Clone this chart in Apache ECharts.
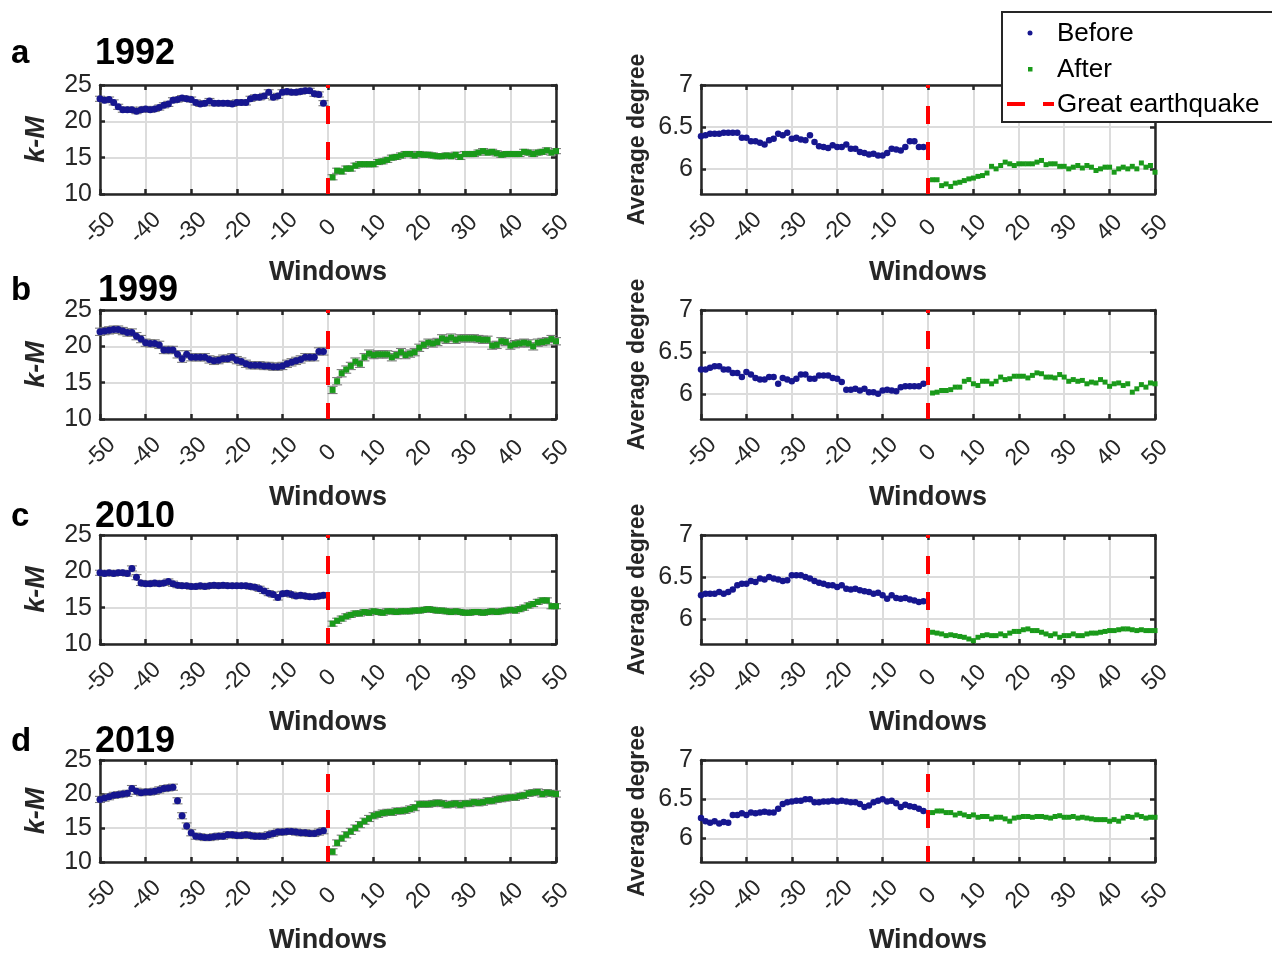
<!DOCTYPE html>
<html><head><meta charset="utf-8">
<script src="https://cdn.jsdelivr.net/npm/echarts@6/dist/echarts.min.js"></script>
<style>html,body{margin:0;padding:0;background:#fff}#chart{width:1272px;height:955px}</style>
</head><body><div id="chart"></div><script>
// ---------- data ----------
const windowsBefore = [-50,-49,-48,-47,-46,-45,-44,-43,-42,-41,-40,-39,-38,-37,-36,-35,-34,-33,-32,-31,-30,-29,-28,-27,-26,-25,-24,-23,-22,-21,-20,-19,-18,-17,-16,-15,-14,-13,-12,-11,-10,-9,-8,-7,-6,-5,-4,-3,-2,-1];
const windowsAfter = [1,2,3,4,5,6,7,8,9,10,11,12,13,14,15,16,17,18,19,20,21,22,23,24,25,26,27,28,29,30,31,32,33,34,35,36,37,38,39,40,41,42,43,44,45,46,47,48,49,50];
const xTicks = [-50,-40,-30,-20,-10,0,10,20,30,40,50];
const kmTicks = [10,15,20,25];
const degTicks = [6,6.5,7];
const years = ['1992','1999','2010','2019'];
const panelLetters = ['a','b','c','d'];

// 1992
const km1992Before = [23.1,22.9,23.0,22.6,22.0,21.6,21.6,21.6,21.4,21.6,21.7,21.6,21.7,21.9,22.2,22.4,22.9,23.0,23.2,23.1,23.0,22.6,22.4,22.5,22.8,22.5,22.5,22.5,22.5,22.4,22.6,22.6,22.6,23.1,23.3,23.3,23.5,24.0,23.3,23.5,24.0,24.1,24.0,24.0,24.1,24.2,24.2,23.8,23.7,22.5];
const km1992After = [12.3,13.2,13.1,13.5,13.5,13.9,14.1,14.1,14.1,14.1,14.4,14.5,14.7,15.0,15.1,15.3,15.5,15.5,15.3,15.5,15.4,15.4,15.3,15.2,15.2,15.3,15.2,15.4,15.1,15.5,15.5,15.5,15.7,15.9,15.7,15.8,15.6,15.4,15.5,15.5,15.5,15.5,15.8,15.7,15.5,15.7,15.8,16.0,15.7,15.9];
const deg1992Before = [6.39,6.40,6.42,6.42,6.42,6.43,6.43,6.43,6.43,6.37,6.37,6.33,6.33,6.31,6.29,6.34,6.36,6.42,6.40,6.43,6.36,6.37,6.35,6.34,6.40,6.32,6.27,6.26,6.25,6.28,6.26,6.26,6.29,6.24,6.24,6.20,6.19,6.17,6.18,6.16,6.16,6.19,6.24,6.23,6.22,6.26,6.33,6.33,6.26,6.26];
const deg1992After = [5.87,5.87,5.80,5.82,5.79,5.83,5.84,5.86,5.88,5.89,5.91,5.92,5.95,6.03,6.00,6.04,6.08,6.06,6.04,6.06,6.06,6.06,6.06,6.08,6.10,6.05,6.06,6.06,6.03,6.03,6.00,6.02,6.04,6.01,6.04,6.02,5.98,6.00,6.02,6.02,5.96,6.00,6.02,6.00,6.03,6.00,6.07,6.02,6.04,5.96];

// 1999
const km1999Before = [22.0,22.1,22.2,22.3,22.3,22.1,21.9,21.9,21.4,21.0,20.5,20.4,20.4,20.2,19.5,19.5,19.5,18.9,18.3,18.9,18.5,18.5,18.5,18.5,18.2,18.0,18.1,18.3,18.3,18.5,18.1,17.9,17.6,17.4,17.4,17.4,17.3,17.3,17.2,17.2,17.3,17.6,17.8,18.0,18.2,18.5,18.5,18.5,19.3,19.3];
const km1999After = [14.0,15.2,16.3,16.8,17.3,17.9,17.6,18.5,19.0,18.8,18.9,18.9,18.9,18.5,18.8,19.2,18.8,19.0,19.2,19.8,20.2,20.5,20.4,20.6,21.1,20.9,21.2,20.9,21.1,21.1,21.1,21.1,21.0,20.9,20.9,20.1,20.2,20.7,20.6,20.1,20.3,20.4,20.5,20.4,20.0,20.5,20.6,20.7,21.0,20.7];
const deg1999Before = [6.29,6.29,6.31,6.33,6.33,6.29,6.29,6.25,6.25,6.20,6.26,6.23,6.19,6.17,6.17,6.20,6.20,6.12,6.19,6.17,6.15,6.18,6.23,6.23,6.18,6.18,6.22,6.22,6.22,6.19,6.18,6.14,6.05,6.05,6.06,6.04,6.06,6.02,6.02,6.00,6.04,6.05,6.04,6.03,6.08,6.09,6.09,6.09,6.09,6.12];
const deg1999After = [6.01,6.02,6.04,6.04,6.05,6.08,6.08,6.15,6.17,6.12,6.10,6.15,6.15,6.12,6.15,6.20,6.17,6.18,6.21,6.21,6.21,6.19,6.22,6.25,6.24,6.20,6.20,6.19,6.23,6.20,6.15,6.17,6.15,6.16,6.12,6.14,6.13,6.17,6.14,6.09,6.12,6.13,6.10,6.12,6.02,6.06,6.11,6.08,6.13,6.12];

// 2010
const km2010Before = [19.8,19.7,19.8,19.7,19.8,19.8,19.7,20.4,19.2,18.4,18.3,18.3,18.4,18.3,18.4,18.6,18.3,18.1,18.0,18.0,17.9,17.9,18.0,17.9,18.0,18.1,18.0,18.1,18.0,18.0,18.0,18.0,18.0,17.9,17.8,17.6,17.3,17.0,16.8,16.4,16.9,17.0,16.8,16.6,16.7,16.6,16.5,16.5,16.6,16.7];
const km2010After = [12.8,13.2,13.5,13.8,14.0,14.2,14.2,14.4,14.3,14.5,14.4,14.3,14.5,14.5,14.4,14.5,14.5,14.5,14.6,14.6,14.7,14.8,14.7,14.6,14.6,14.5,14.4,14.5,14.4,14.3,14.3,14.4,14.4,14.3,14.4,14.5,14.4,14.5,14.6,14.7,14.6,14.8,15.0,15.3,15.5,15.8,16.0,16.0,15.2,15.2];
const deg2010Before = [6.28,6.30,6.30,6.30,6.32,6.30,6.32,6.35,6.40,6.42,6.42,6.45,6.44,6.48,6.47,6.50,6.48,6.47,6.45,6.46,6.52,6.52,6.52,6.50,6.48,6.45,6.43,6.42,6.40,6.40,6.38,6.40,6.36,6.35,6.36,6.34,6.33,6.32,6.30,6.31,6.28,6.24,6.28,6.25,6.24,6.25,6.23,6.22,6.20,6.21];
const deg2010After = [5.84,5.83,5.82,5.80,5.81,5.80,5.79,5.78,5.76,5.74,5.78,5.80,5.81,5.80,5.80,5.82,5.80,5.83,5.85,5.85,5.87,5.88,5.86,5.86,5.84,5.82,5.80,5.82,5.78,5.80,5.80,5.82,5.80,5.80,5.82,5.83,5.83,5.84,5.85,5.86,5.86,5.87,5.88,5.88,5.87,5.86,5.87,5.86,5.86,5.86];

// 2019
const km2019Before = [19.2,19.4,19.6,19.8,19.9,20.0,20.1,20.8,20.4,20.2,20.3,20.3,20.4,20.6,20.8,20.9,21.0,19.0,16.8,15.3,14.3,13.8,13.7,13.6,13.6,13.7,13.8,13.8,14.0,14.0,13.9,13.9,14.0,13.9,13.8,13.8,13.8,14.0,14.2,14.4,14.4,14.5,14.5,14.4,14.3,14.3,14.2,14.2,14.4,14.6];
const km2019After = [11.5,12.8,13.5,14.0,14.5,15.0,15.5,16.0,16.4,16.8,17.0,17.2,17.3,17.3,17.5,17.5,17.6,17.8,18.0,18.5,18.5,18.5,18.6,18.7,18.6,18.4,18.5,18.6,18.4,18.6,18.6,18.8,18.7,18.8,19.0,19.0,19.2,19.3,19.4,19.5,19.5,19.7,19.8,20.1,20.2,20.3,20.0,20.2,20.1,20.0];
const deg2019Before = [6.26,6.22,6.20,6.22,6.19,6.21,6.20,6.30,6.30,6.32,6.30,6.33,6.32,6.33,6.34,6.33,6.33,6.38,6.44,6.46,6.47,6.48,6.48,6.50,6.50,6.46,6.46,6.47,6.47,6.48,6.47,6.48,6.47,6.46,6.46,6.44,6.40,6.42,6.46,6.48,6.50,6.47,6.48,6.45,6.40,6.43,6.41,6.40,6.38,6.35];
const deg2019After = [6.33,6.35,6.35,6.33,6.33,6.30,6.32,6.30,6.28,6.30,6.27,6.28,6.28,6.25,6.27,6.27,6.25,6.22,6.26,6.27,6.28,6.28,6.27,6.28,6.28,6.27,6.26,6.28,6.29,6.27,6.27,6.28,6.26,6.27,6.26,6.25,6.24,6.24,6.24,6.22,6.24,6.22,6.26,6.28,6.27,6.30,6.28,6.26,6.27,6.27];

// k-M error bar half-widths
const kmErrBefore = [0.35, 0.5, 0.35, 0.45];
const kmErrAfter = [0.35, 0.5, 0.35, 0.45];

const earthquakeWindow = 0;

// ---------- chart ----------
const FONT = 'Liberation Sans, Arial, Helvetica, sans-serif';
const FRAME = '#262626';
const GRIDC = '#dcdcdc';
const BLUE = '#16168f';
const GREEN = '#1a9a1a';
const RED = '#ff0000';

const kmBefore = [km1992Before, km1999Before, km2010Before, km2019Before];
const kmAfter = [km1992After, km1999After, km2010After, km2019After];
const degBefore = [deg1992Before, deg1999Before, deg2010Before, deg2019Before];
const degAfter = [deg1992After, deg1999After, deg2010After, deg2019After];

const ROW_TOPS = [85, 310, 535, 760];
const ROW_H = 109;
const COLS = [{left: 100, width: 456}, {left: 701, width: 454}];

const grids = [], xAxes = [], yAxes = [], series = [], graphics = [];

function pair(xs, ys) { return xs.map((x, i) => [x, ys[i]]); }

function errRender(params, api) {
  const x = api.value(0), y = api.value(1), e = api.value(2);
  const top = api.coord([x, y + e]);
  const bot = api.coord([x, y - e]);
  const cw = 5;
  const st = {stroke: '#7a7a7a', lineWidth: 1.1};
  return {type: 'group', children: [
    {type: 'line', shape: {x1: top[0], y1: top[1], x2: bot[0], y2: bot[1]}, style: st},
    {type: 'line', shape: {x1: top[0] - cw, y1: top[1], x2: top[0] + cw, y2: top[1]}, style: st},
    {type: 'line', shape: {x1: bot[0] - cw, y1: bot[1], x2: bot[0] + cw, y2: bot[1]}, style: st}
  ]};
}

for (let r = 0; r < 4; r++) {
  for (let c = 0; c < 2; c++) {
    const g = r * 2 + c;
    grids.push({left: COLS[c].left, top: ROW_TOPS[r], width: COLS[c].width, height: ROW_H, containLabel: false});
    const lineSt = {color: FRAME, width: 2.5};
    xAxes.push({
      gridIndex: g, type: 'value', min: -50, max: 50, position: 'bottom',
      axisLine: {show: true, onZero: false, lineStyle: lineSt},
      axisTick: {show: true, inside: true, length: 5, customValues: xTicks, lineStyle: lineSt},
      axisLabel: {show: true, customValues: xTicks, rotate: 45, align: 'center', verticalAlign: 'middle', margin: 34, fontSize: 23, color: FRAME, fontFamily: FONT},
      splitLine: {show: true, lineStyle: {color: GRIDC, width: 2}},
      name: 'Windows', nameLocation: 'middle', nameGap: 65,
      nameTextStyle: {fontSize: 27, fontWeight: 'bold', color: FRAME, fontFamily: FONT}
    });
    xAxes.push({
      gridIndex: g, type: 'value', min: -50, max: 50, position: 'top',
      axisLine: {show: true, onZero: false, lineStyle: lineSt},
      axisTick: {show: true, inside: true, length: 5, customValues: xTicks, lineStyle: lineSt},
      axisLabel: {show: false}, splitLine: {show: false}
    });
    const isKm = c === 0;
    const yt = isKm ? kmTicks : degTicks;
    const ymin = isKm ? 10 : 5.7, ymax = isKm ? 25 : 7;
    yAxes.push({
      gridIndex: g, type: 'value', min: ymin, max: ymax, position: 'left',
      axisLine: {show: true, onZero: false, lineStyle: lineSt},
      axisTick: {show: true, inside: true, length: 5, customValues: yt, lineStyle: lineSt},
      axisLabel: {show: true, customValues: yt, margin: 8, fontSize: 25, color: FRAME, fontFamily: FONT},
      splitLine: {show: true, lineStyle: {color: GRIDC, width: 2}},
      name: isKm ? 'k-M' : 'Average degree', nameLocation: 'middle', nameGap: isKm ? 50 : 52,
      nameTextStyle: {fontSize: isKm ? 27 : 23, fontWeight: 'bold', fontStyle: isKm ? 'italic' : 'normal', color: FRAME, fontFamily: FONT}
    });
    yAxes.push({
      gridIndex: g, type: 'value', min: ymin, max: ymax, position: 'right',
      axisLine: {show: true, onZero: false, lineStyle: lineSt},
      axisTick: {show: true, inside: true, length: 5, customValues: yt, lineStyle: lineSt},
      axisLabel: {show: false}, splitLine: {show: false}
    });
    const xi = g * 2, yi = g * 2;
    const bVals = isKm ? kmBefore[r] : degBefore[r];
    const aVals = isKm ? kmAfter[r] : degAfter[r];
    if (isKm) {
      series.push({type: 'custom', xAxisIndex: xi, yAxisIndex: yi, renderItem: errRender, z: 2,
        data: windowsBefore.map((x, i) => [x, bVals[i], kmErrBefore[r]])});
      series.push({type: 'custom', xAxisIndex: xi, yAxisIndex: yi, renderItem: errRender, z: 2,
        data: windowsAfter.map((x, i) => [x, aVals[i], kmErrAfter[r]])});
    }
    series.push({
      name: 'Before', type: 'scatter', xAxisIndex: xi, yAxisIndex: yi, z: 3,
      symbol: 'circle', symbolSize: isKm ? 7 : 6.5,
      itemStyle: {color: BLUE, opacity: 1}, data: pair(windowsBefore, bVals),
      markLine: {silent: true, symbol: 'none', label: {show: false},
        lineStyle: {color: RED, width: 4, type: [18, 18], dashOffset: 2},
        data: [{xAxis: earthquakeWindow}], animation: false}
    });
    series.push({
      name: 'After', type: 'scatter', xAxisIndex: xi, yAxisIndex: yi, z: 3,
      symbol: 'rect', symbolSize: isKm ? 6 : 5,
      itemStyle: {color: GREEN, opacity: 1}, data: pair(windowsAfter, aVals)
    });
  }
}

// panel letters & years
const letterY = [57, 294, 520, 745];
for (let r = 0; r < 4; r++) {
  graphics.push({type: 'text', left: 11, top: letterY[r] - 20, z: 10,
    style: {text: panelLetters[r], font: 'bold 33px ' + FONT, fill: '#000'}});
  graphics.push({type: 'text', left: r === 1 ? 98 : 95, top: letterY[r] - 21, z: 10,
    style: {text: years[r], font: 'bold 36px ' + FONT, fill: '#000'}});
}

// legend box
graphics.push({type: 'rect', zlevel: 2, z: 100, shape: {x: 1002, y: 12, width: 300, height: 110}, style: {fill: '#fff', stroke: FRAME, lineWidth: 2}});
graphics.push({type: 'circle', zlevel: 2, z: 101, shape: {cx: 1030, cy: 33, r: 2.5}, style: {fill: BLUE}});
graphics.push({type: 'rect', zlevel: 2, z: 101, shape: {x: 1028, y: 67, width: 4.5, height: 4.5}, style: {fill: GREEN}});
graphics.push({type: 'line', zlevel: 2, z: 101, shape: {x1: 1007, y1: 104, x2: 1025, y2: 104}, style: {stroke: RED, lineWidth: 4}});
graphics.push({type: 'line', zlevel: 2, z: 101, shape: {x1: 1043, y1: 104, x2: 1054, y2: 104}, style: {stroke: RED, lineWidth: 4}});
graphics.push({type: 'text', zlevel: 2, z: 101, x: 1057, y: 34, style: {text: 'Before', font: '26px ' + FONT, fill: '#000', verticalAlign: 'middle'}});
graphics.push({type: 'text', zlevel: 2, z: 101, x: 1057, y: 70, style: {text: 'After', font: '26px ' + FONT, fill: '#000', verticalAlign: 'middle'}});
graphics.push({type: 'text', zlevel: 2, z: 101, x: 1057, y: 105, style: {text: 'Great earthquake', font: '26px ' + FONT, fill: '#000', verticalAlign: 'middle'}});

const chart = echarts.init(document.getElementById('chart'));
chart.setOption({
  animation: false,
  backgroundColor: '#fff',
  textStyle: {fontFamily: FONT},
  grid: grids, xAxis: xAxes, yAxis: yAxes, series: series, graphic: graphics
});
</script></body></html>
